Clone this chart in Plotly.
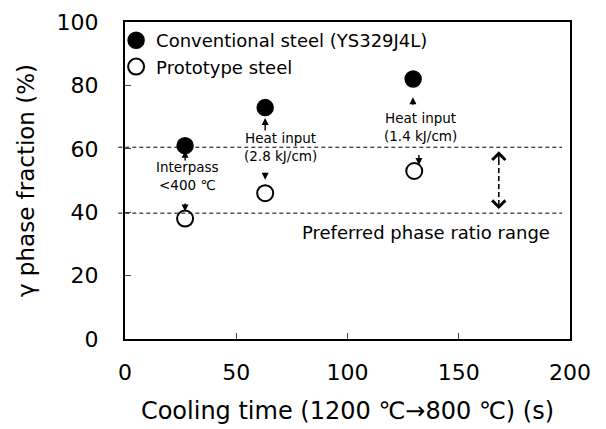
import plotly.graph_objects as go

# Data
cooling_time_conv = [27, 63, 129.5]
gamma_conv = [61, 73, 82]
cooling_time_proto = [27, 63, 130]
gamma_proto = [38, 46, 53]
range_low, range_high = 39.7, 60.5

x_ticks = [0, 50, 100, 150, 200]
y_ticks = [0, 20, 40, 60, 80, 100]

FONT = "DejaVu Sans"

fig = go.Figure()
fig.add_trace(go.Scatter(
    x=cooling_time_conv, y=gamma_conv, mode="markers",
    name="Conventional steel (YS329J4L)",
    marker=dict(size=16, color="black", line=dict(color="black", width=1.5)),
))
fig.add_trace(go.Scatter(
    x=cooling_time_proto, y=gamma_proto, mode="markers",
    name="Prototype steel",
    marker=dict(size=16, color="white", line=dict(color="black", width=2)),
))

# dashed range lines
for yv in (range_low, range_high):
    fig.add_shape(type="line", xref="paper", yref="y", x0=-0.015, x1=0.982,
                  y0=yv, y1=yv, line=dict(color="black", width=1, dash="4px,3px"))

# double dashed arrow
fig.add_shape(type="line", xref="x", yref="y", x0=168, x1=168, y0=56.5, y1=43.5,
              line=dict(color="black", width=1.6, dash="5px,3px"))

ann = []
def arrow(x, y, ax, ay, head=2, size=1.0, width=1.4):
    ann.append(dict(x=x, y=y, ax=ax, ay=ay, xref="x", yref="y", axref="x", ayref="y",
                    text="", showarrow=True, arrowhead=head, arrowsize=size,
                    arrowwidth=width, arrowcolor="black"))

arrow(168, 59.2, 168, 56.0, head=4, size=1.7, width=1.5)
arrow(168, 41.0, 168, 44.2, head=4, size=1.7, width=1.5)

# small solid arrows
arrow(27, 59.4, 27, 55.8)
arrow(27, 40.2, 27, 43.2)
arrow(63, 69.7, 63, 65.3)
arrow(63, 50.2, 63, 52.9)
arrow(129.4, 76.3, 129.4, 73.4)
arrow(132.1, 54.9, 132.1, 58.5)

def label(x, y, text, size=13.5):
    ann.append(dict(x=x, y=y, xref="x", yref="y", text=text, showarrow=False,
                    font=dict(family=FONT, size=size, color="black"), align="center"))

label(27.9, 51.3, "Interpass<br><400 ℃")
label(70.1, 60.7, "Heat input<br>(2.8 kJ/cm)")
label(132.6, 67.0, "Heat input<br>(1.4 kJ/cm)")
label(135.5, 33.6, "Preferred phase ratio range", size=18)

fig.update_layout(
    annotations=ann,
    width=606, height=429,
    margin=dict(l=125, r=36, t=22, b=90),
    paper_bgcolor="white", plot_bgcolor="white",
    font=dict(family=FONT, color="black"),
    showlegend=True,
    legend=dict(x=-0.02, y=1.0, xanchor="left", yanchor="top",
                bgcolor="rgba(0,0,0,0)", font=dict(family=FONT, size=18),
                tracegroupgap=0, itemclick=False),
    xaxis=dict(range=[0, 200], tickvals=x_ticks, ticks="inside", ticklen=6,
               tickwidth=1.2, showline=True, linewidth=2, linecolor="black",
               mirror=True, showgrid=False, zeroline=False, automargin=False,
               tickfont=dict(family=FONT, size=22), ticklabelstandoff=13,
               title=dict(text="Cooling time (1200 ℃→800 ℃) (s)",
                          font=dict(family=FONT, size=24), standoff=18)),
    yaxis=dict(range=[0, 100], tickvals=y_ticks, ticks="inside", ticklen=6,
               tickwidth=1.2, showline=True, linewidth=2, linecolor="black",
               mirror=True, showgrid=False, zeroline=False, automargin=False,
               tickfont=dict(family=FONT, size=22), ticklabelstandoff=20,
               title=dict(text="γ phase fraction (%)",
                          font=dict(family=FONT, size=23), standoff=16)),
)

fig.write_html("out.html")
